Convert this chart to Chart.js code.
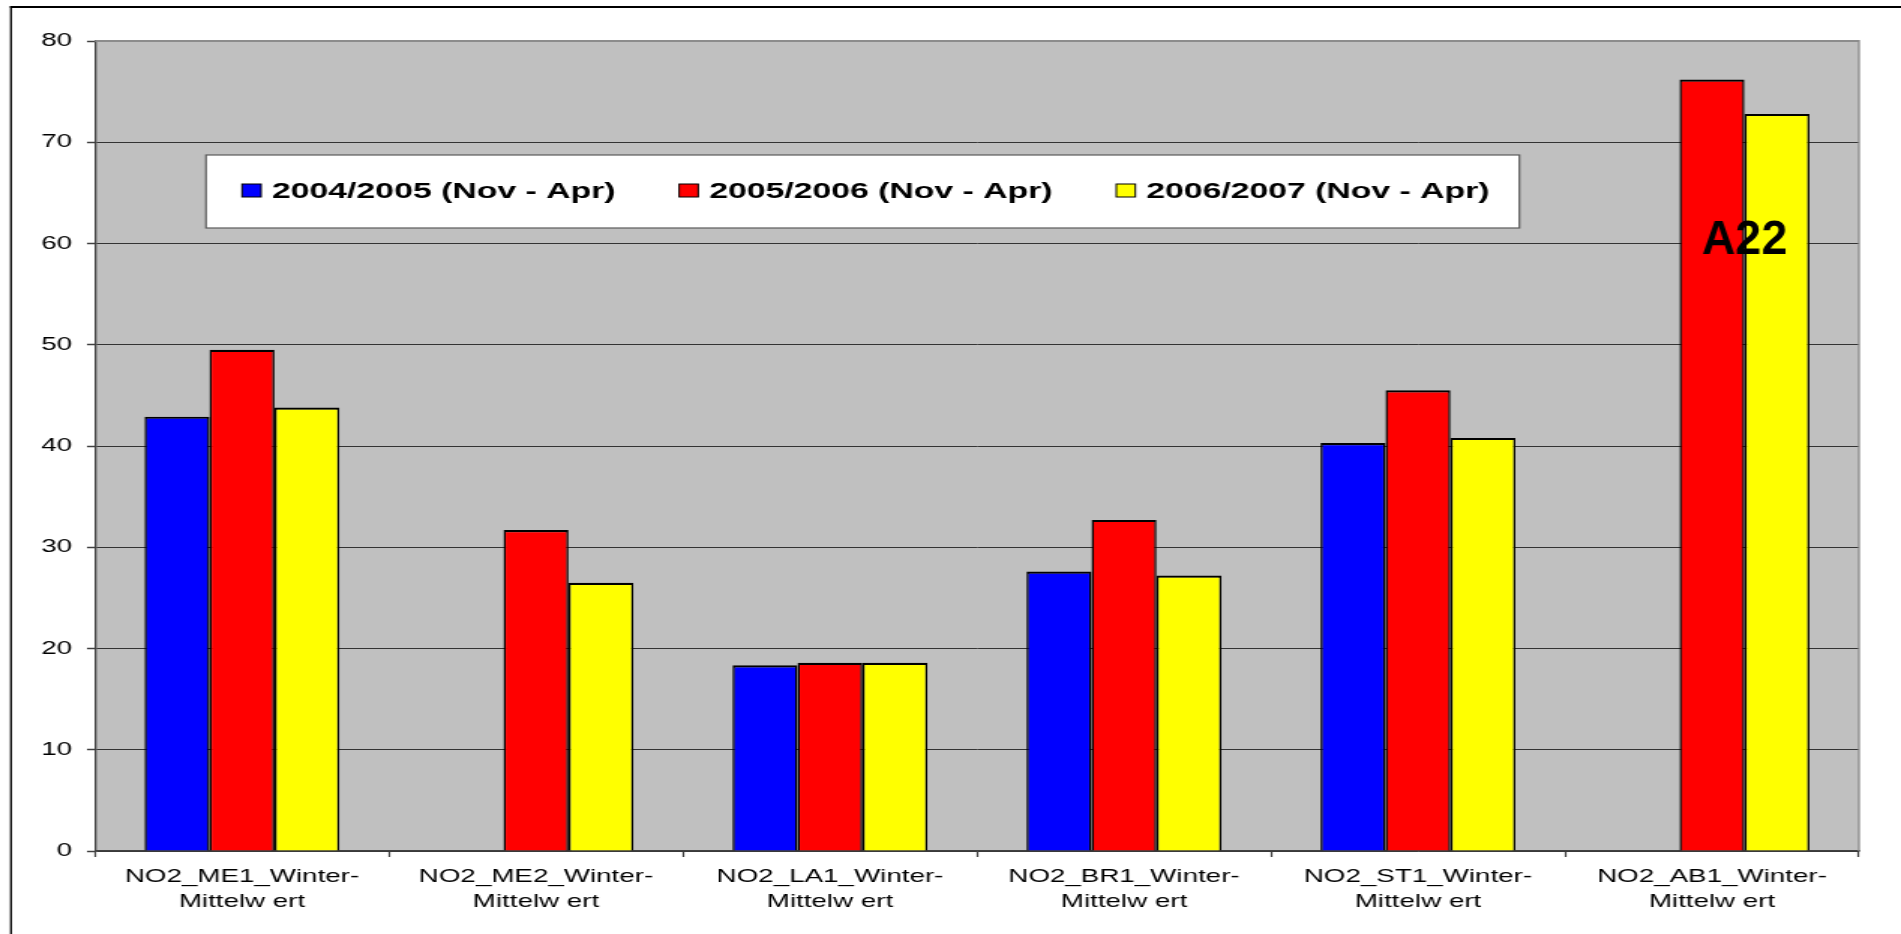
<!DOCTYPE html>
<html>
<head>
<meta charset="utf-8">
<script src="https://cdn.jsdelivr.net/npm/chart.js@4/dist/chart.umd.min.js"></script>
<style>
html,body{margin:0;padding:0;background:#ffffff;overflow:hidden}
canvas{display:block}
</style>
</head>
<body>
<canvas id="c" width="1267" height="934" style="width:1901px;height:934px"></canvas>
<script>
// ---- data ----
const categories = [
  ["NO2_ME1_Winter-", "Mittelw ert"],
  ["NO2_ME2_Winter-", "Mittelw ert"],
  ["NO2_LA1_Winter-", "Mittelw ert"],
  ["NO2_BR1_Winter-", "Mittelw ert"],
  ["NO2_ST1_Winter-", "Mittelw ert"],
  ["NO2_AB1_Winter-", "Mittelw ert"]
];
const seriesLabels = ["2004/2005 (Nov - Apr)", "2005/2006 (Nov - Apr)", "2006/2007 (Nov - Apr)"];
const values2004_2005 = [42.9, null, 18.35, 27.6, 40.3, null];
const values2005_2006 = [49.5, 31.7, 18.6, 32.7, 45.5, 76.2];
const values2006_2007 = [43.8, 26.5, 18.6, 27.2, 40.8, 72.8];
const seriesColors = ["#0000FF", "#FF0000", "#FFFF00"];
const yMin = 0, yMax = 80, yStep = 10;
const annotationText = "A22";
const annotationCategory = 5;
const annotationValue = 59;

// ---- rendering ----
const SX = 1901 / 1267; // horizontal stretch of the original picture
const FONT = '"Liberation Sans", Arial, sans-serif';

const plotBg = {
  id: 'plotBg',
  beforeDraw(chart) {
    const {ctx, chartArea: a} = chart;
    ctx.save();
    ctx.fillStyle = '#C0C0C0';
    ctx.fillRect(a.left, a.top, a.right - a.left, a.bottom - a.top);
    ctx.restore();
  }
};

const frame = {
  id: 'frame',
  beforeDatasetsDraw(chart) {
    const {ctx, chartArea: a} = chart;
    ctx.save();
    ctx.fillStyle = '#8C8C8C';
    ctx.fillRect(a.left, a.top - 1, a.right - a.left, 2);
    ctx.fillRect(a.right - 0.67, a.top - 1, 1.33, a.bottom - a.top + 1);
    ctx.restore();
  }
};

const extras = {
  id: 'extras',
  afterDraw(chart) {
    const ctx = chart.ctx;
    ctx.save();
    // outer border
    ctx.fillStyle = '#000000';
    ctx.fillRect(6.67, 6, chart.width, 2);
    ctx.fillRect(6.67, 6, 1.33, chart.height);

    // legend box
    const bx = 137.3, by = 155, bw = 875.4, bh = 73;
    ctx.fillStyle = '#FFFFFF';
    ctx.fillRect(bx, by, bw, bh);
    ctx.strokeStyle = '#5A5A5A';
    ctx.lineWidth = 1.2;
    ctx.strokeRect(bx, by, bw, bh);
    ctx.font = 'bold 22.5px ' + FONT;
    ctx.textBaseline = 'alphabetic';
    ctx.textAlign = 'left';
    let x = 161.3;
    chart.data.datasets.forEach((ds) => {
      ctx.fillStyle = ds.backgroundColor;
      ctx.fillRect(x, 184, 12.7, 13);
      ctx.strokeStyle = '#000000';
      ctx.lineWidth = 1;
      ctx.strokeRect(x, 184, 12.7, 13);
      ctx.fillStyle = '#000000';
      ctx.fillText(ds.label, x + 20, 197.5);
      x += 20 + ctx.measureText(ds.label).width + 42.5;
    });

    // annotation A22
    const bar = chart.getDatasetMeta(1).data[annotationCategory];
    const ax = bar.x + bar.width / 2;
    const ay = chart.scales.y.getPixelForValue(annotationValue);
    ctx.translate(ax, ay);
    ctx.scale(0.97 / SX, 1);
    ctx.font = 'bold 48px ' + FONT;
    ctx.textAlign = 'center';
    ctx.fillStyle = '#000000';
    ctx.fillText(annotationText, 0, 0);
    ctx.restore();
  }
};

const datasets = [values2004_2005, values2005_2006, values2006_2007].map((vals, i) => ({
  label: seriesLabels[i],
  data: vals,
  backgroundColor: seriesColors[i],
  borderColor: '#000000',
  borderWidth: {top: 2.2, left: 1.5, right: 1.5, bottom: 0},
  borderSkipped: 'start',
  categoryPercentage: 0.663,
  barPercentage: 1.0
}));

new Chart(document.getElementById('c'), {
  type: 'bar',
  data: {labels: categories, datasets},
  options: {
    responsive: false,
    devicePixelRatio: 1,
    animation: false,
    layout: {padding: {left: 0, right: 28, top: 41, bottom: 0}},
    plugins: {legend: {display: false}, tooltip: {enabled: false}, title: {display: false}},
    scales: {
      x: {
        afterFit(s) { s.height = 83; },
        grid: {display: true, drawOnChartArea: false, drawTicks: true, tickLength: 6, tickColor: '#404040', tickWidth: 1.2, offset: true},
        border: {display: true, color: '#404040', width: 1.5},
        ticks: {color: '#000000', padding: 7, maxRotation: 0, autoSkip: false,
                font: {family: FONT, size: 18.5, lineHeight: 1.36}}
      },
      y: {
        min: yMin, max: yMax,
        afterFit(s) { s.width = 63.3; },
        grid: {color: '#333333', lineWidth: 1, drawTicks: true, tickLength: 5.3, tickColor: '#404040', tickWidth: 1.5},
        border: {display: true, color: '#404040', width: 1.33},
        ticks: {stepSize: yStep, color: '#000000', padding: 10, font: {family: FONT, size: 18.5}}
      }
    }
  },
  plugins: [plotBg, frame, extras]
});
</script>
</body>
</html>
